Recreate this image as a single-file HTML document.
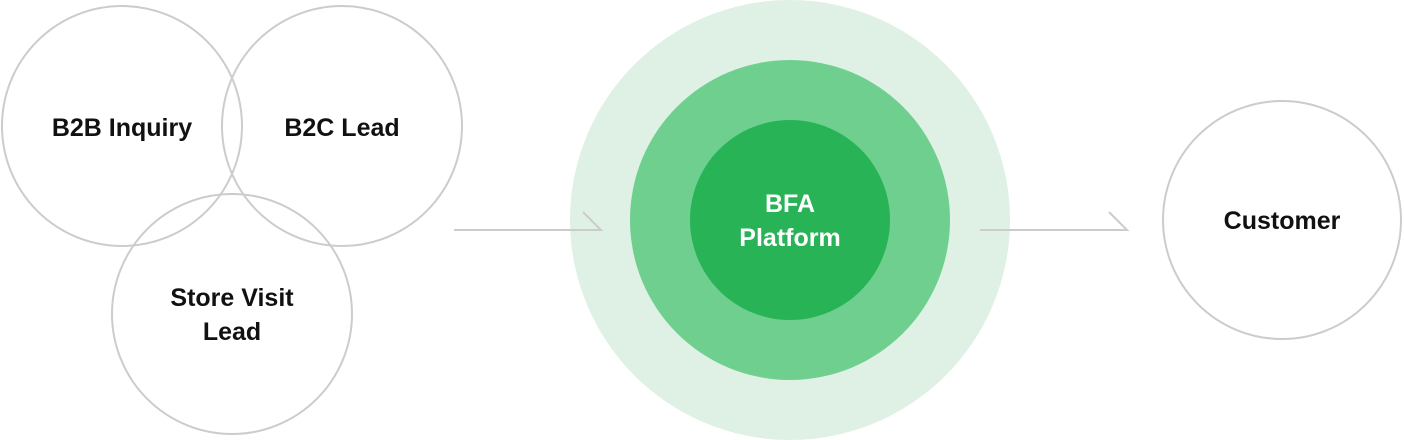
<!DOCTYPE html>
<html><head><meta charset="utf-8"><style>
html,body{margin:0;padding:0;background:#fff;width:1404px;height:440px;overflow:hidden}
svg text{font-family:"Liberation Sans",sans-serif;font-size:25px;font-weight:bold}
</style></head><body>
<svg width="1404" height="440" xmlns="http://www.w3.org/2000/svg">
<g fill="none" stroke="#cccccc" stroke-width="2">
<circle cx="122" cy="126" r="120"/>
<circle cx="342" cy="126" r="120"/>
<circle cx="232" cy="314" r="120"/>
<circle cx="1282" cy="220" r="119"/>
</g>
<circle cx="790" cy="220" r="220" fill="#dff1e5"/>
<circle cx="790" cy="220" r="160" fill="#6fcf8f"/>
<circle cx="790" cy="220" r="100" fill="#27b356"/>
<g fill="none" stroke="#cccccc" stroke-width="2">
<path d="M454 230H601L583 212"/>
<path d="M980 230H1127L1109 212"/>
</g>
<g text-anchor="middle" fill="#111">
<text x="122" y="136">B2B Inquiry</text>
<text x="342" y="136">B2C Lead</text>
<text x="232" y="306">Store Visit</text>
<text x="232" y="340">Lead</text>
<text x="1282" y="229">Customer</text>
</g>
<g text-anchor="middle" fill="#fff">
<text x="790" y="212">BFA</text>
<text x="790" y="246">Platform</text>
</g>
</svg>
</body></html>
